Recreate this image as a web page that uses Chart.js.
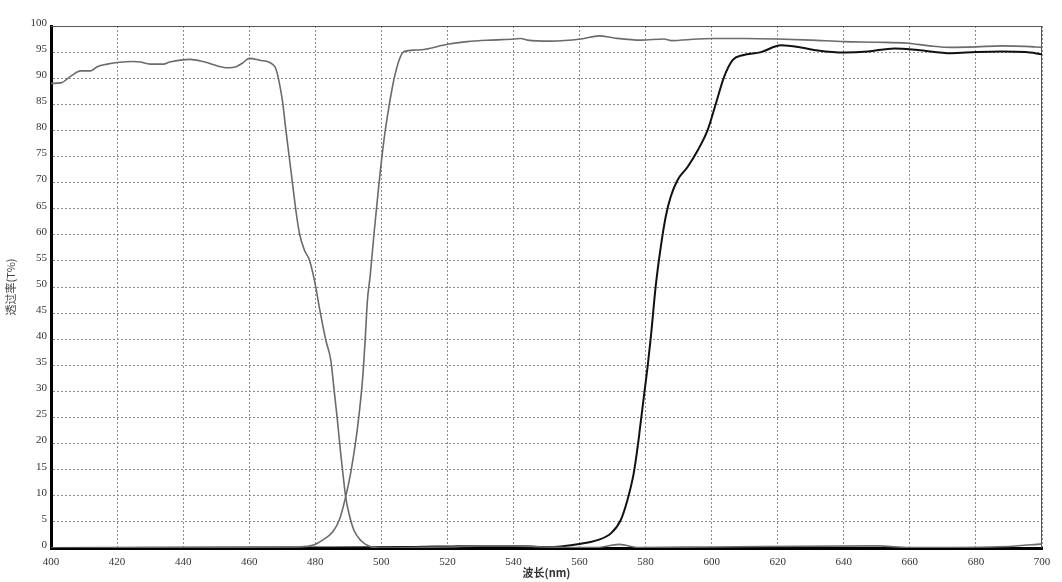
<!DOCTYPE html>
<html>
<head>
<meta charset="utf-8">
<script src="https://cdn.jsdelivr.net/npm/chart.js@4/dist/chart.umd.min.js"></script>
<style>
  html, body { margin: 0; padding: 0; background: #fff; }
  #wrap { width: 1062px; height: 582px; }
</style>
</head>
<body>
<div id="wrap"><canvas id="myChart"></canvas></div>
<script>
// short-pass filter (grey)
const shortNm = [400, 403, 406, 409, 412, 414, 417, 420, 425, 427, 430, 434, 436, 442, 446, 452, 454, 456, 458, 460, 463.5, 465.5, 467, 468, 469, 470.1, 471.1, 472.1, 473.1, 474.1, 475.2, 476.7, 478.2, 480, 481.2, 483.2, 484.7, 485.7, 486.7, 487.7, 488.7, 489.2, 490.2, 491.7, 493.7, 496.2, 498, 500, 510, 520, 530, 540, 550, 565, 572, 578, 600, 650, 660, 690, 700];
const shortT  = [89.0, 89.1, 90.4, 91.4, 91.4, 92.2, 92.7, 93.0, 93.2, 93.1, 92.7, 92.7, 93.1, 93.6, 93.2, 92.1, 92.0, 92.2, 92.9, 93.8, 93.4, 93.2, 92.7, 91.9, 89.5, 85.5, 80.1, 75.0, 69.9, 64.8, 60.3, 57.1, 55.2, 50.5, 46.2, 39.8, 36.0, 30.3, 24.5, 18.1, 12.4, 9.8, 6.6, 3.4, 1.5, 0.4, 0.1, 0, 0.1, 0.2, 0.4, 0.4, 0.2, 0.1, 0.7, 0.1, 0.2, 0.4, 0.1, 0.3, 0.8];

// long-pass filter (grey)
const longNm = [400, 475, 479.7, 482.2, 485.3, 487.3, 489.2, 490.7, 492.3, 493.3, 494.3, 495.1, 495.8, 496.6, 497.8, 499.3, 500.8, 502.3, 503.8, 505.4, 506.9, 510.4, 512.9, 520, 526, 533, 540.2, 542.2, 544.2, 551.3, 560.4, 566, 570.5, 578.6, 585.6, 587.7, 595.8, 600.8, 610, 620, 630, 640.2, 650, 659.4, 666, 672.5, 680, 687.7, 695, 700];
const longT  = [0, 0.2, 0.6, 1.5, 3.1, 5.4, 9.8, 14.3, 20.7, 25.8, 32.2, 39.8, 47.5, 52.0, 60.3, 69.9, 78.2, 84.5, 89.7, 93.5, 95.1, 95.4, 95.5, 96.5, 97.0, 97.3, 97.5, 97.6, 97.3, 97.1, 97.5, 98.1, 97.7, 97.3, 97.5, 97.2, 97.5, 97.6, 97.6, 97.5, 97.3, 97.0, 96.9, 96.7, 96.2, 95.9, 96.0, 96.2, 96.1, 95.9];

// long-pass filter (black)
const edgeNm = [400, 480, 510, 520, 530, 540, 550, 554.3, 560.4, 565.4, 569.5, 572.5, 574.5, 576.4, 577.6, 578.6, 579.6, 580.6, 581.6, 583.1, 584.6, 586.1, 587.6, 589.7, 592.7, 595.8, 598.8, 601.3, 603.8, 606.4, 609.4, 614.9, 621, 627, 632.1, 640.2, 647.3, 655.3, 662.4, 672.5, 680, 687.7, 695, 700];
const edgeT  = [0, 0.1, 0.2, 0.3, 0.4, 0.4, 0.2, 0.3, 0.8, 1.5, 2.8, 5.4, 9.2, 14.3, 19.4, 24.5, 29.6, 34.7, 40.5, 50.4, 57.7, 63.5, 67.3, 70.5, 73.0, 76.2, 80.1, 85.2, 90.3, 93.5, 94.4, 95.0, 96.3, 95.9, 95.3, 94.9, 95.1, 95.7, 95.4, 94.8, 95.0, 95.1, 95.0, 94.6];

const xTitle = "波长(nm)";
const yTitle = "透过率(T%)";

function pts(xs, ys) {
    return xs.map((x, i) => ({ x: x, y: ys[i] }));
}

// thin frame on top and right of the plot area
const frame = {
    id: "frame",
    beforeDatasetsDraw(chart) {
        const a = chart.chartArea;
        const ctx = chart.ctx;
        ctx.save();
        ctx.strokeStyle = "#555";
        ctx.lineWidth = 1;
        ctx.beginPath();
        ctx.moveTo(a.left, a.top + 0.5);
        ctx.lineTo(a.right - 0.5, a.top + 0.5);
        ctx.lineTo(a.right - 0.5, a.bottom);
        ctx.stroke();
        ctx.restore();
    }
};

const gridDash = [2, 2];

const config = {
    type: "line",
    data: {
        datasets: [
            {
                data: pts(shortNm, shortT),
                borderColor: "#6b6b6b",
                borderWidth: 1.6,
                pointRadius: 0,
                cubicInterpolationMode: "monotone"
            },
            {
                data: pts(longNm, longT),
                borderColor: "#6b6b6b",
                borderWidth: 1.6,
                pointRadius: 0,
                cubicInterpolationMode: "monotone"
            },
            {
                data: pts(edgeNm, edgeT),
                borderColor: "#111",
                borderWidth: 2,
                pointRadius: 0,
                cubicInterpolationMode: "monotone"
            }
        ]
    },
    options: {
        responsive: true,
        maintainAspectRatio: false,
        animation: false,
        layout: { padding: { top: 26, right: 20, left: 0, bottom: 3 } },
        plugins: { legend: { display: false }, tooltip: { enabled: false } },
        scales: {
            x: {
                type: "linear",
                min: 400,
                max: 700,
                afterFit: (s) => { s.height = 31; },
                ticks: {
                    stepSize: 20,
                    padding: 8,
                    color: "#333",
                    font: { family: "Liberation Serif", size: 11 }
                },
                grid: { color: "#8c8c8c", drawTicks: false },
                border: { color: "#000", width: 3, dash: gridDash },
                title: {
                    display: true,
                    text: xTitle,
                    color: "#333",
                    padding: { top: 0, bottom: 0 },
                    font: { family: "Noto Sans CJK SC", size: 11, weight: "bold" }
                }
            },
            y: {
                min: 0,
                max: 100,
                afterFit: (s) => { s.width = 51; },
                ticks: {
                    stepSize: 5,
                    padding: 4,
                    labelOffset: -3,
                    color: "#333",
                    font: { family: "Liberation Serif", size: 11 }
                },
                grid: { color: "#8c8c8c", drawTicks: false },
                border: { color: "#000", width: 3, dash: gridDash },
                title: {
                    display: true,
                    text: yTitle,
                    color: "#444",
                    padding: { top: 4, bottom: 0 },
                    font: { family: "Noto Sans CJK SC", size: 11 }
                }
            }
        }
    },
    plugins: [frame]
};

const myChart = document.getElementById("myChart");
new Chart(myChart, config);
</script>
</body>
</html>
